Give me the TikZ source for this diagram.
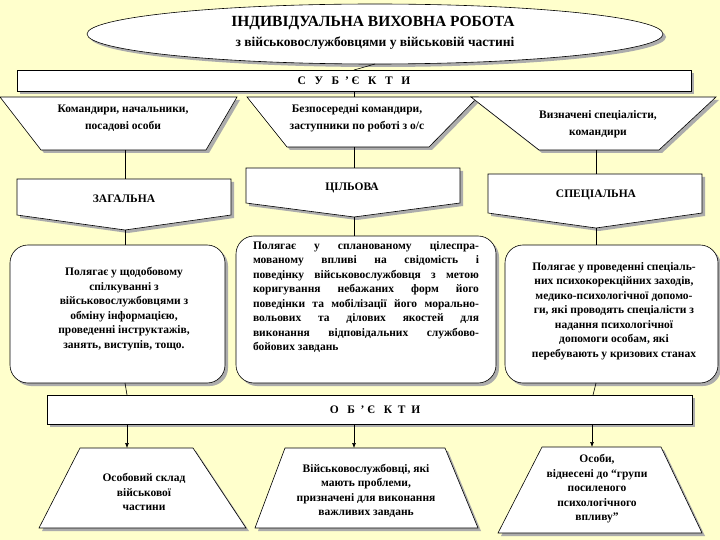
\documentclass[tikz,border=0pt]{standalone}
\usepackage{fontspec}
\setmainfont{Liberation Serif}
\usetikzlibrary{arrows.meta}
\definecolor{bgy}{HTML}{FFFFCC}
\begin{document}
\begin{tikzpicture}[x=1pt,y=-1pt,
  shp/.style={draw=black,fill=white,line width=0.6pt,preaction={fill=gray!65,transform canvas={shift={(3pt,-3pt)}}}},
  txt/.style={font=\fontsize{11.5}{17}\selectfont\bfseries,align=center,inner sep=0pt},
  bt/.style={txt,font=\fontsize{11.5}{14.5}\selectfont\bfseries},
  con/.style={draw=black,line width=0.6pt},
  arr/.style={con,-{Latex[length=5pt,width=4pt]}}]
\fill[bgy] (0,0) rectangle (720,540);
\useasboundingbox (0,0) rectangle (720,540);
% title ellipse
\draw[shp] (375,34) ellipse [x radius=288,y radius=30];
\node[txt,font=\fontsize{15.5}{18}\selectfont\bfseries] (t1) at (373,23) {ІНДИВІДУАЛЬНА ВИХОВНА РОБОТА};
\node[txt,font=\fontsize{13.5}{16}\selectfont\bfseries] (t2) at (375,43) {з військовослужбовцями у військовій частині};
\coordinate (eb) at (375,64);
% subjects bar
\draw[shp] (17,70) rectangle (691,91);
\node[txt] (subj) at (354,80.5) {С\ \ \ У\ \ \ Б\ \ ’\ Є\ \ \ К\ \ \ Т\ \ \ И};
\coordinate (sbt) at (354,70);\coordinate (sbb) at (354,91);
\draw[con] (eb)--(sbt);
% top trapezoids
\draw[shp] (0,97)--(237,97)--(206,150)--(41,150)--cycle;
\draw[shp] (247,97)--(478,97)--(429,147)--(287,147)--cycle;
\draw[shp] (471,97)--(716,97)--(659,150)--(539,150)--cycle;
\node[txt] (s1) at (123,118) {Командири, начальники,\\посадові особи};
\node[txt] (s2) at (357,118) {Безпосередні командири,\\заступники по роботі з о/с};
\node[txt] (s3) at (598,124) {Визначені спеціалісти,\\командири};
\coordinate (s2t) at (354,97);
\draw[con] (sbb)--(s2t);
\coordinate (a1) at (125,150);\coordinate (a2) at (354,147);\coordinate (a3) at (596,150);
% pentagons
\draw[shp] (17,179)--(231,179)--(231,215)--(125,230)--(17,215)--cycle;
\draw[shp] (246,168)--(460,168)--(460,203)--(354,217)--(246,203)--cycle;
\draw[shp] (488,174)--(702,174)--(702,213)--(596,228)--(488,213)--cycle;
\node[txt] (p1) at (124,199) {ЗАГАЛЬНА};
\node[txt] (p2) at (352,188) {ЦІЛЬОВА};
\node[txt] (p3) at (596,195) {СПЕЦІАЛЬНА};
\coordinate (b1) at (125,179);\coordinate (b2) at (354,168);\coordinate (b3) at (596,174);
\draw[con] (a1)--(b1);\draw[con] (a2)--(b2);\draw[con] (a3)--(b3);
\coordinate (c1) at (125,230);\coordinate (c2) at (354,217);\coordinate (c3) at (596,228);
% rounded boxes
\draw[shp,rounded corners=18pt] (10,245) rectangle (225,383);
\draw[shp,rounded corners=18pt] (236,236) rectangle (496,383);
\draw[shp,rounded corners=18pt] (505,245) rectangle (718,383);
\coordinate (d1) at (125,245);\coordinate (d2) at (354,236);\coordinate (d3) at (596,245);
\draw[con] (c1)--(d1);\draw[con] (c2)--(d2);\draw[con] (c3)--(d3);
\node[bt] (r1) at (124,309) {Полягає у щодобовому\\спілкуванні з\\військовослужбовцями з\\обміну інформацією,\\проведенні інструктажів,\\занять, виступів, тощо.};
\node[bt,text width=226pt,align=justify] (r2) at (366,297) {Полягає у спланованому цілеспра-\linebreak мованому впливі на свідомість і\linebreak поведінку військовослужбовця з метою\linebreak коригування небажаних форм його\linebreak поведінки та мобілізації його морально-\linebreak вольових та ділових якостей для\linebreak виконання відповідальних службово-\linebreak бойових завдань};
\node[bt] (r3) at (614,311) {Полягає у проведенні спеціаль-\\них психокорекційних заходів,\\медико-психологічної допомо-\\ги, які проводять спеціалісти з\\надання психологічної\\допомоги особам, які\\перебувають у кризових станах};
\coordinate (e1) at (125,383);\coordinate (e3) at (596,383);
% objects bar
\draw[shp] (47,395) rectangle (692,424);
\node[txt] (obj) at (375,409.5) {О\ \ \ Б\ \ ’\ Є\ \ \ К\ \ Т\ \ И};
\coordinate (o1t) at (127,395);\coordinate (o3t) at (593,395);
\draw[con] (e1)--(o1t);\draw[con] (e3)--(o3t);
\coordinate (o1) at (127,424);\coordinate (o2) at (354,424);\coordinate (o3) at (592,424);
% bottom trapezoids
\draw[shp] (80,448)--(193,448)--(246,528)--(39,528)--cycle;
\draw[shp] (285,448)--(445,448)--(478,528)--(255,528)--cycle;
\draw[shp] (542,447)--(661,447)--(702,533)--(498,533)--cycle;
\coordinate (g1) at (127,448);\coordinate (g2) at (354,448);\coordinate (g3) at (592,447);
\draw[arr] (o1)--(g1);\draw[arr] (o2)--(g2);\draw[arr] (o3)--(g3);
\node[bt] (q1) at (144,492) {Особовий склад\\військової\\частини};
\node[bt] (q2) at (366,491) {Військовослужбовці, які\\мають проблеми,\\призначені для виконання\\важливих завдань};
\node[bt] (q3) at (597,489) {Особи,\\віднесені до “групи\\посиленого\\психологічного\\впливу”};
\end{tikzpicture}
\end{document}
